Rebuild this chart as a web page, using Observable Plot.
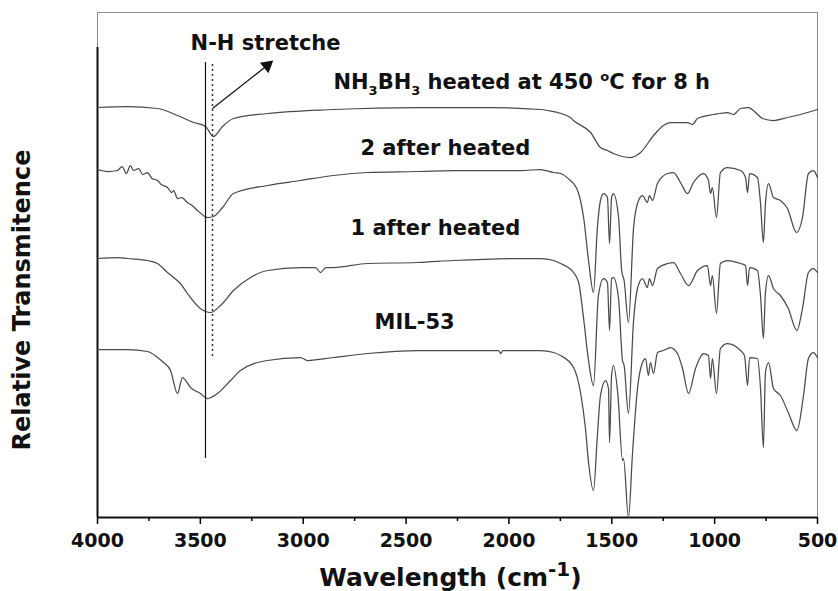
<!DOCTYPE html>
<html><head><meta charset="utf-8">
<script src="https://cdn.jsdelivr.net/npm/d3@7"></script>
<script src="https://cdn.jsdelivr.net/npm/@observablehq/plot@0.6"></script>
<style>body{margin:0;background:#fff}</style>
</head><body><div id="chart"></div>
<script>
// wavenumber (cm-1), relative transmittance (offset, a.u.)
const nh3bh3Heated = [
 [4000,410],[3854,411],[3708,409],[3611,402],[3533,395],[3475,391],[3436,381],[3392,391],[3339,399],
 [3174,404],[2853,408],[2445,410],[2104,410],[1847,408],[1812,407],[1701,400],[1686,397],[1603,385],
 [1555,370],[1521,367],[1492,364],[1409,360],[1360,365],[1297,382],[1249,392],[1215,395],[1200,395],
 [1132,395],[1108,393],[1083,399],[1005,403],[937,405],[908,403],[874,409],[835,410],[801,405],
 [767,399],[714,397],[646,400],[549,405],[500,408]
];
const after2 = [
 [4000,348],[3950,346],[3903,347],[3880,351],[3860,344],[3840,352],[3825,347],[3800,349],[3780,343],
 [3757,345],[3735,339],[3708,337],[3690,333],[3660,330],[3640,325],[3630,327],[3611,319],[3590,320],
 [3563,315],[3540,312],[3514,307],[3465,300],[3436,301],[3392,310],[3339,324],[3174,332],[3013,337],
 [2853,342],[2688,345],[2445,346],[2269,347],[1944,347],[1847,348],[1783,345],[1749,344],[1701,337],
 [1686,334],[1661,324],[1637,300],[1613,257],[1589,225],[1570,290],[1555,317],[1540,324],[1521,320],
 [1511,274],[1501,320],[1492,324],[1467,300],[1452,247],[1440,237],[1419,195],[1394,290],[1375,314],
 [1351,322],[1327,315],[1317,322],[1302,317],[1278,334],[1229,344],[1200,345],[1166,335],[1132,324],
 [1103,335],[1054,344],[1030,337],[1020,324],[1011,330],[991,300],[972,345],[938,350],[874,347],
 [850,340],[840,325],[830,344],[792,340],[777,314],[763,275],[753,314],[738,334],[714,320],[680,317],
 [646,309],[602,285],[573,300],[544,344],[520,347],[500,340]
];
const after1 = [
 [4000,259],[3900,260],[3854,259],[3757,257],[3708,254],[3660,245],[3630,240],[3597,234],[3563,224],
 [3500,209],[3451,205],[3402,212],[3339,227],[3256,240],[3174,247],[3013,250],[2940,250],[2916,245],
 [2890,250],[2853,250],[2688,254],[2445,255],[2269,257],[1944,259],[1847,259],[1783,257],[1749,254],
 [1686,245],[1661,235],[1637,199],[1613,157],[1589,132],[1565,222],[1540,239],[1521,235],[1511,187],
 [1501,239],[1492,240],[1467,219],[1448,157],[1440,152],[1419,104],[1394,197],[1375,229],[1351,239],
 [1327,230],[1317,239],[1302,232],[1278,249],[1229,254],[1200,255],[1166,244],[1127,232],[1083,247],
 [1035,252],[1020,232],[1011,242],[991,204],[972,254],[938,257],[874,254],[850,252],[840,232],[830,250],
 [792,247],[777,222],[763,179],[753,225],[738,242],[714,229],[680,222],[642,209],[600,187],[573,209],
 [544,245],[520,249],[500,245]
];
const mil53 = [
 [4000,168],[3854,168],[3757,166],[3708,160],[3679,155],[3645,147],[3611,124],[3587,140],[3548,130],
 [3500,124],[3465,119],[3417,124],[3353,137],[3305,147],[3174,157],[3013,160],[2979,157],[2853,160],
 [2688,164],[2445,167],[2050,167],[2040,164],[2030,167],[1847,167],[1783,165],[1749,162],[1686,150],
 [1652,125],[1628,89],[1613,55],[1589,27],[1570,82],[1555,122],[1530,137],[1516,129],[1511,75],
 [1501,142],[1492,152],[1470,122],[1448,57],[1443,59],[1419,0],[1399,65],[1375,129],[1351,155],
 [1336,159],[1322,142],[1312,155],[1297,144],[1278,165],[1249,167],[1215,170],[1181,164],[1156,149],
 [1127,124],[1093,149],[1054,164],[1030,162],[1020,139],[1011,159],[991,124],[972,169],[938,174],
 [874,167],[855,162],[840,132],[830,160],[792,159],[777,129],[763,70],[753,145],[738,155],[714,129],
 [680,122],[642,105],[600,87],[568,122],[544,159],[520,165],[500,160]
];
const seriesNames = ["NH3BH3 heated at 450 °C for 8 h", "2 after heated", "1 after heated", "MIL-53"];
const seriesData = [nh3bh3Heated, after2, after1, mil53];
const majorTicks = [4000, 3500, 3000, 2500, 2000, 1500, 1000, 500];
const minorTicks = [3750, 3250, 2750, 2250, 1750, 1250, 750];
const labels = [
 {text: "N-H stretche", wn: 3183, t: 474, anchor: "middle"},
 {text: "NH3BH3 heated at 450 °C for 8 h", wn: 2853, t: 435, anchor: "start"},
 {text: "2 after heated", wn: 2722, t: 369, anchor: "start"},
 {text: "1 after heated", wn: 2770, t: 289, anchor: "start"},
 {text: "MIL-53", wn: 2653, t: 195, anchor: "start"}
];
const nhStretch = [{wn: 3475, t1: 59, t2: 455}];
const nhDotted = [{wn: 3441, t1: 161, t2: 455}];
const arrowPts = [{wn1: 3441, t1: 409, wn2: 3175, t2: 452}];
const yLabel = "Relative Transmitence";
const xLabel = "Wavelength (cm";

const rows = seriesData.flatMap((arr, i) => arr.map(([wn, t]) => ({series: seriesNames[i], wn, t})));

const plot = Plot.plot({
  width: 838, height: 591,
  marginLeft: 97, marginRight: 21, marginTop: 12, marginBottom: 74,
  style: {fontFamily: "DejaVu Sans", fontWeight: "bold", background: "#fff"},
  x: {domain: [4000, 500]},
  y: {domain: [0, 505], axis: null},
  marks: [
    Plot.ruleY([505], {stroke: "#8a8a8a", strokeWidth: 1}),
    Plot.ruleX([500], {y1: 0, y2: 505, stroke: "#8a8a8a", strokeWidth: 1}),
    Plot.ruleX([4000], {y1: 470, y2: 505, stroke: "#8a8a8a", strokeWidth: 1}),
    Plot.ruleX([4000], {y1: 0, y2: 470, stroke: "#111", strokeWidth: 2}),
    Plot.ruleY([0], {stroke: "#111", strokeWidth: 2}),
    Plot.axisX({ticks: majorTicks, tickSize: 7, tickPadding: 9, tickFormat: d => String(d), fontSize: 19, fill: "#111", label: null, strokeWidth: 1.5}),
    Plot.axisX({ticks: minorTicks, tickSize: 4, text: null, label: null, strokeWidth: 1.5}),
    Plot.line(rows, {x: "wn", y: "t", z: "series", stroke: "#4a4a4a", strokeWidth: 1.25, curve: "monotone-x"}),
    Plot.ruleX(nhStretch, {x: "wn", y1: "t1", y2: "t2", stroke: "#111", strokeWidth: 1.2}),
    Plot.ruleX(nhDotted, {x: "wn", y1: "t1", y2: "t2", stroke: "#333", strokeWidth: 1.5, strokeDasharray: "2,3"}),
    Plot.link(arrowPts, {x1: "wn1", y1: "t1", x2: "wn2", y2: "t2", stroke: "#111", strokeWidth: 1.2}),
    Plot.dot(arrowPts, {x: "wn2", y: "t2", symbol: "triangle", rotate: 51, r: 5, fill: "#111", stroke: null}),
    ...labels.map(l => Plot.text([l], {x: "wn", y: "t", text: "text", textAnchor: l.anchor, fontSize: 21, fill: "#111"})),
    Plot.text([yLabel], {text: d => d, frameAnchor: "left", textAnchor: "middle", lineAnchor: "middle", rotate: -90, dx: -75, dy: 35, fontSize: 24, fill: "#111"}),
    Plot.text([xLabel], {text: d => d, frameAnchor: "bottom", textAnchor: "middle", lineAnchor: "middle", dy: 60, dx: -7, fontSize: 25, fill: "#111"})
  ]
});
document.getElementById("chart").appendChild(plot);

// rich text: subscripts / superscripts
const findText = s => d3.select(plot).selectAll("text").filter(function() { return this.textContent === s; });
const nh3 = findText(labels[1].text);
nh3.text(null);
nh3.append("tspan").text("NH");
nh3.append("tspan").attr("font-size", 13).attr("dy", 6).text("3");
nh3.append("tspan").attr("dy", -6).text("BH");
nh3.append("tspan").attr("font-size", 13).attr("dy", 6).text("3");
nh3.append("tspan").attr("dy", -6).text(" heated at 450 ");
nh3.append("tspan").attr("font-size", 13).attr("dy", -8).text("o");
nh3.append("tspan").attr("dy", 8).text("C for 8 h");

const xl = findText(xLabel);
xl.append("tspan").attr("font-size", 20).attr("dy", -10).text("-1");
xl.append("tspan").attr("dy", 10).text(")");
</script>
</body></html>
